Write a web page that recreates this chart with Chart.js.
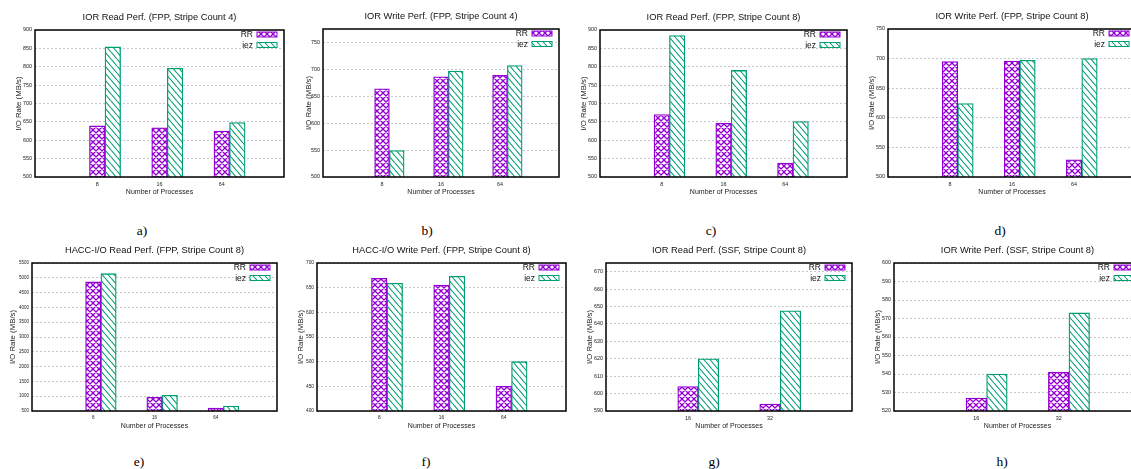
<!DOCTYPE html>
<html><head><meta charset="utf-8">
<script src="https://cdn.jsdelivr.net/npm/chart.js@4/dist/chart.umd.min.js"></script>
<style>
html,body{margin:0;padding:0;overflow:hidden;background:#fff;}
#wrap{position:relative;width:1131px;height:469px;overflow:hidden;background:#fff;}
#wrap canvas{position:absolute;}
.cap{position:absolute;font-family:"Liberation Serif","DejaVu Serif",serif;font-size:13.5px;color:#000;transform:translate(-50%,-50%);white-space:nowrap;}
</style></head><body><div id="wrap"></div>
<script>
// ---------------- data ----------------
const seriesNames = ['RR', 'iez'];
const catsFPP = ['8', '16', '64'];
const catsSSF = ['16', '32'];
const titles = [
  'IOR Read Perf. (FPP, Stripe Count 4)',
  'IOR Write Perf. (FPP, Stripe Count 4)',
  'IOR Read Perf. (FPP, Stripe Count 8)',
  'IOR Write Perf. (FPP, Stripe Count 8)',
  'HACC-I/O Read Perf. (FPP, Stripe Count 8)',
  'HACC-I/O Write Perf. (FPP, Stripe Count 8)',
  'IOR Read Perf. (SSF, Stripe Count 8)',
  'IOR Write Perf. (SSF, Stripe Count 8)'
];
const captions = ['a)', 'b)', 'c)', 'd)', 'e)', 'f)', 'g)', 'h)'];
const xAxisLabel = 'Number of Processes';
const yAxisLabel = 'I/O Rate (MB/s)';

const aRR = [639, 634, 625];
const aIEZ = [854, 796, 648];
const bRR = [664, 686, 689];
const bIEZ = [549, 697, 707];
const cRR = [670, 646, 538];
const cIEZ = [885, 790, 651];
const dRR = [695, 696, 529];
const dIEZ = [624, 697, 700];
const eRR = [4860, 961, 601];
const eIEZ = [5140, 1028, 668];
const fRR = [669, 655, 450];
const fIEZ = [659, 673, 500];
const gRR = [604, 594];
const gIEZ = [620, 647.5];
const hRR = [527, 541];
const hIEZ = [540, 573];

// y axis ranges: [min, max, tick step]
const aY = [500, 900, 50];
const bY = [500, 775, 50];
const cY = [500, 900, 50];
const dY = [500, 750, 50];
const eY = [500, 5500, 500];
const fY = [400, 700, 50];
const gY = [590, 675, 10];
const hY = [520, 600, 10];

// ---------------- styling / layout ----------------
const PURPLE = '#9400d3';
const GREEN = '#009e73';
Chart.defaults.font.family = '"Liberation Sans", Arial, sans-serif';
Chart.defaults.color = '#222';

function crossPattern(color) {
  const s = 6, c = document.createElement('canvas');
  c.width = s; c.height = s;
  const x = c.getContext('2d');
  x.fillStyle = '#fff'; x.fillRect(0, 0, s, s);
  x.strokeStyle = color; x.lineWidth = 1.35;
  x.beginPath();
  for (const k of [-s, 0, s]) {
    x.moveTo(k, 0); x.lineTo(k + s, s);
    x.moveTo(k + s, 0); x.lineTo(k, s);
  }
  x.stroke();
  return x.createPattern(c, 'repeat');
}
function slashPattern(color) {
  const w = 6, h = 7, c = document.createElement('canvas');
  c.width = w; c.height = h;
  const x = c.getContext('2d');
  x.fillStyle = '#fff'; x.fillRect(0, 0, w, h);
  x.strokeStyle = color; x.lineWidth = 1.1;
  x.beginPath();
  for (const k of [-w, 0, w]) { x.moveTo(k, 0); x.lineTo(k + w, h); }
  x.stroke();
  return x.createPattern(c, 'repeat');
}
const rrFill = crossPattern(PURPLE);
const iezFill = slashPattern(GREEN);

const insideLegend = {
  id: 'insideLegend',
  afterDraw(chart) {
    const {ctx, chartArea: ca} = chart;
    ctx.save();
    ctx.font = '8.5px "Liberation Sans", Arial, sans-serif';
    ctx.textAlign = 'right';
    ctx.textBaseline = 'middle';
    chart.data.datasets.forEach((ds, i) => {
      const y = ca.top + 4.5 + i * 10.5;
      const bx = ca.right - 7 - 20;
      ctx.fillStyle = ds.backgroundColor;
      ctx.fillRect(bx, y - 2.5, 20, 5);
      ctx.strokeStyle = ds.borderColor; ctx.lineWidth = 1;
      ctx.strokeRect(bx, y - 2.5, 20, 5);
      ctx.fillStyle = '#111';
      ctx.fillText(ds.label, bx - 4, y + 0.5);
    });
    ctx.strokeStyle = '#000'; ctx.lineWidth = 1.5;
    ctx.strokeRect(ca.left, ca.top, ca.width, ca.height);
    ctx.restore();
  }
};

// plot box [left, top, right, bottom], y-label distance, tick font, caption centre
const panels = [
  {cats: catsFPP, rr: aRR, iez: aIEZ, y: aY, box: [35, 30, 285, 177], yl: 16, tf: 5.4, cap: [142, 231]},
  {cats: catsFPP, rr: bRR, iez: bIEZ, y: bY, box: [323, 29, 560, 177], yl: 14, tf: 5.4, cap: [427, 231]},
  {cats: catsFPP, rr: cRR, iez: cIEZ, y: cY, box: [600, 30, 848, 177], yl: 16, tf: 5.4, cap: [711, 231]},
  {cats: catsFPP, rr: dRR, iez: dIEZ, y: dY, box: [888, 29, 1137, 177], yl: 16, tf: 5.4, cap: [1000, 231]},
  {cats: catsFPP, rr: eRR, iez: eIEZ, y: eY, box: [32, 263, 278, 411], yl: 19, tf: 4.5, cap: [139, 462]},
  {cats: catsFPP, rr: fRR, iez: fIEZ, y: fY, box: [317, 263, 567, 411], yl: 16, tf: 4.8, cap: [426, 462]},
  {cats: catsSSF, rr: gRR, iez: gIEZ, y: gY, box: [606, 263, 853, 411], yl: 16, tf: 5.4, cap: [714, 462]},
  {cats: catsSSF, rr: hRR, iez: hIEZ, y: hY, box: [894, 263, 1142, 411], yl: 16, tf: 5.4, cap: [1002, 462]}
];

const wrap = document.getElementById('wrap');
const TH = 20, XH = 22;

panels.forEach((p, idx) => {
  const [l, t, r, b] = p.box;
  const YW = p.yl + 4;
  const cv = document.createElement('canvas');
  cv.width = YW + (r - l) + 3;
  cv.height = TH + (b - t) + XH;
  cv.style.left = (l - YW) + 'px';
  cv.style.top = (t - TH) + 'px';
  wrap.appendChild(cv);

  const cap = document.createElement('div');
  cap.className = 'cap';
  cap.textContent = captions[idx];
  cap.style.left = p.cap[0] + 'px';
  cap.style.top = p.cap[1] + 'px';
  wrap.appendChild(cap);

  const barStyle = {borderWidth: 1.3, borderSkipped: false, categoryPercentage: 1, barPercentage: 1, grouped: false};

  new Chart(cv, {
    type: 'bar',
    data: {
      datasets: [
        Object.assign({label: seriesNames[0], data: p.rr.map((v, i) => ({x: i + 1, y: v})),
          backgroundColor: rrFill, borderColor: PURPLE}, barStyle),
        Object.assign({label: seriesNames[1], data: p.iez.map((v, i) => ({x: i + 1.25, y: v})),
          backgroundColor: iezFill, borderColor: GREEN}, barStyle)
      ]
    },
    options: {
      responsive: false,
      animation: false,
      devicePixelRatio: 1,
      layout: {padding: {left: 0, top: 0, right: 3, bottom: 0}},
      plugins: {
        legend: {display: false},
        tooltip: {enabled: false},
        title: {display: true, text: titles[idx], fullSize: false, color: '#111',
          font: {size: 9.3, lineHeight: 1.2, weight: 'normal'}, padding: {top: 2, bottom: 6.84}}
      },
      scales: {
        x: {
          type: 'linear', min: 0, max: p.cats.length + 1, offset: false,
          grid: {display: false, drawTicks: false, offset: false},
          border: {display: false},
          ticks: {stepSize: 1, autoSkip: false, maxRotation: 0, padding: 4,
            font: {size: p.tf}, color: '#222',
            callback: v => (p.cats[v - 1] !== undefined ? p.cats[v - 1] : '')},
          title: {display: true, text: xAxisLabel, color: '#222', font: {size: 7, lineHeight: 1.2},
            padding: {top: 0, bottom: 2.8}},
          afterFit: s => { s.height = XH; }
        },
        y: {
          type: 'linear', min: p.y[0], max: p.y[1], beginAtZero: false,
          grid: {color: '#c6c6c6', lineWidth: 1, drawTicks: false},
          border: {display: false, dash: [2, 2]},
          ticks: {stepSize: p.y[2], includeBounds: false, padding: 3, font: {size: p.tf}, color: '#222',
            callback: v => String(v)},
          title: {display: true, text: yAxisLabel, color: '#222', font: {size: 7.8, lineHeight: 1}, padding: 0},
          afterFit: s => { s.width = YW; }
        }
      }
    },
    plugins: [insideLegend]
  });
});
</script>
</body></html>
